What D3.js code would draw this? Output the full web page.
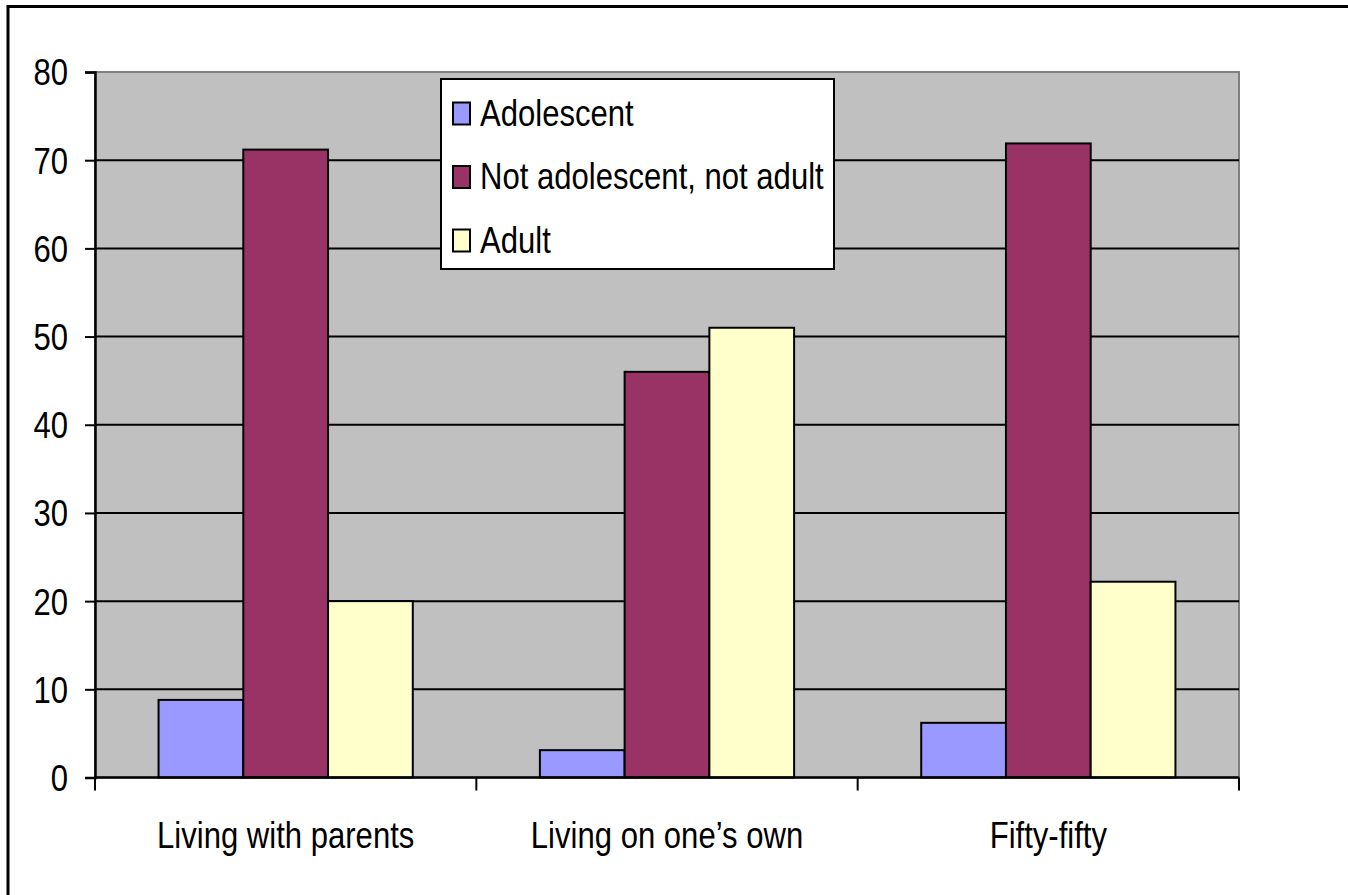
<!DOCTYPE html>
<html>
<head>
<meta charset="utf-8">
<script src="https://cdn.jsdelivr.net/npm/d3@7"></script>
<style>
  html, body { margin: 0; padding: 0; background: #fff; }
  svg { display: block; }
  text { font-family: "Liberation Sans", Arial, sans-serif; fill: #000; }
</style>
</head>
<body>
<svg id="chart" width="1348" height="895"></svg>
<script>
const categories = ["Living with parents", "Living on one\u2019s own", "Fifty-fifty"];
const seriesNames = ["Adolescent", "Not adolescent, not adult", "Adult"];
const adolescent = [8.8, 3.1, 6.2];
const notAdolescentNotAdult = [71.2, 46, 71.9];
const adult = [20, 51, 22.2];
const seriesColors = ["#9999FF", "#993366", "#FFFFCC"];
const yTicks = [0, 10, 20, 30, 40, 50, 60, 70, 80];

const seriesValues = [adolescent, notAdolescentNotAdult, adult];
const FS = 37, SX = 0.84;

const svg = d3.select("#chart");
const plot = { left: 95, top: 72, right: 1239, bottom: 777.5 };

// outer frame
svg.append("rect").attr("x", 8).attr("y", 6.5).attr("width", 1400).attr("height", 1000)
  .attr("fill", "#fff").attr("stroke", "#000").attr("stroke-width", 3);

const y = d3.scaleLinear().domain([0, 80]).range([plot.bottom, plot.top]);
const x0 = d3.scaleBand().domain(categories).range([plot.left, plot.right]).padding(0);
const x1 = d3.scaleBand().domain(seriesNames).range([0, x0.bandwidth()]).paddingInner(0).paddingOuter(0.75);

// plot area
svg.append("rect").attr("x", plot.left).attr("y", plot.top)
  .attr("width", plot.right - plot.left).attr("height", plot.bottom - plot.top)
  .attr("fill", "#C0C0C0").attr("stroke", "#808080").attr("stroke-width", 2);

// gridlines
svg.append("g").selectAll("line").data(yTicks.filter(t => t > 0 && t < 80)).join("line")
  .attr("x1", plot.left).attr("x2", plot.right)
  .attr("y1", d => y(d)).attr("y2", d => y(d))
  .attr("stroke", "#000").attr("stroke-width", 2);

// bars
const rows = categories.map((c, i) => seriesNames.map((s, j) => ({ c, s, j, v: seriesValues[j][i] })));
svg.append("g").selectAll("g").data(rows).join("g")
  .attr("transform", d => `translate(${x0(d[0].c)},0)`)
  .selectAll("rect").data(d => d).join("rect")
  .attr("x", d => x1(d.s)).attr("width", x1.bandwidth())
  .attr("y", d => y(d.v)).attr("height", d => y(0) - y(d.v))
  .attr("fill", d => seriesColors[d.j]).attr("stroke", "#000").attr("stroke-width", 2);

// y axis
const yAxis = svg.append("g").attr("transform", `translate(${plot.left},0)`)
  .call(d3.axisLeft(y).tickValues(yTicks).tickSize(10).tickFormat(d3.format("d")));
yAxis.select(".domain").attr("stroke", "#000").attr("stroke-width", 2.5);
yAxis.selectAll(".tick line").attr("stroke", "#000").attr("stroke-width", 2);
yAxis.selectAll(".tick text").attr("font-size", FS).attr("font-family", "Liberation Sans, Arial, sans-serif")
  .attr("x", -27 / SX).attr("dy", "0.35em").attr("transform", `scale(${SX},1)`);

// x axis
const xg = svg.append("g");
xg.append("line").attr("x1", plot.left).attr("x2", plot.right)
  .attr("y1", plot.bottom).attr("y2", plot.bottom).attr("stroke", "#000").attr("stroke-width", 2.5);
const bounds = categories.map(c => x0(c)).concat([x0(categories[categories.length - 1]) + x0.bandwidth()]);
xg.selectAll("line.tk").data(bounds).join("line").attr("class", "tk")
  .attr("x1", d => d).attr("x2", d => d).attr("y1", plot.bottom).attr("y2", plot.bottom + 13)
  .attr("stroke", "#000").attr("stroke-width", 2);
xg.selectAll("text").data(categories).join("text")
  .attr("transform", d => `translate(${x0(d) + x0.bandwidth() / 2},848) scale(${SX},1)`)
  .attr("text-anchor", "middle").attr("font-size", FS).text(d => d);

// legend
const lg = svg.append("g");
lg.append("rect").attr("x", 441).attr("y", 79).attr("width", 393).attr("height", 190)
  .attr("fill", "#fff").attr("stroke", "#000").attr("stroke-width", 2);
const items = lg.selectAll("g").data(seriesNames).join("g")
  .attr("transform", (d, i) => `translate(0,${113.5 + i * 63.5})`);
items.append("rect").attr("x", 453).attr("y", -11).attr("width", 17).attr("height", 22)
  .attr("fill", (d, i) => seriesColors[i]).attr("stroke", "#000").attr("stroke-width", 2);
items.append("text").attr("transform", `translate(480,12) scale(${SX},1)`)
  .attr("font-size", FS).text(d => d);
</script>
</body>
</html>
